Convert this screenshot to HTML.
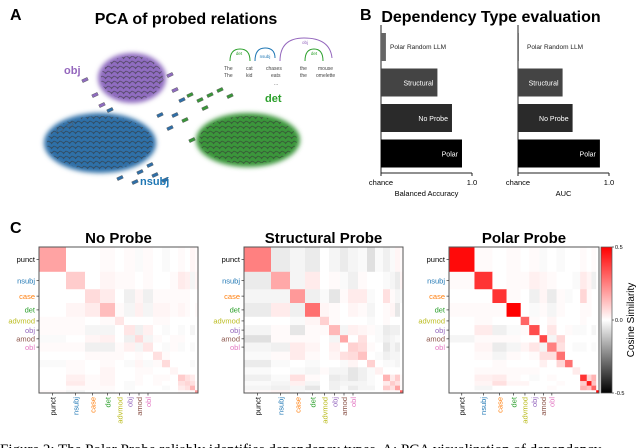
<!DOCTYPE html>
<html><head><meta charset="utf-8">
<style>
html,body{margin:0;padding:0;background:#fff;}
body{width:640px;height:448px;overflow:hidden;position:relative;font-family:"Liberation Sans",Arial,sans-serif;}
svg{position:absolute;left:0;top:0;}
</style></head>
<body>
<svg id="fig" width="640" height="448" viewBox="0 0 640 448" xmlns="http://www.w3.org/2000/svg">
<defs>
<pattern id="speck" width="6" height="5" patternUnits="userSpaceOnUse">
<path d="M0 1 L4 3 M3 4 L6 1" stroke="#333" stroke-width="0.9" opacity="0.6"/>
</pattern>
<filter id="soft" x="-20%" y="-20%" width="140%" height="140%"><feGaussianBlur stdDeviation="2.5"/></filter>
</defs>
<!-- Panel A -->
<text x="10" y="20" font-size="16" font-weight="bold">A</text>
<text x="186" y="24" font-size="16" font-weight="bold" text-anchor="middle">PCA of probed relations</text>
<g id="pca"></g>
<text x="64" y="74" font-size="11" font-weight="bold" fill="#9467bd">obj</text>
<text x="140" y="185" font-size="11" font-weight="bold" fill="#1f77b4">nsubj</text>
<text x="265" y="102" font-size="11" font-weight="bold" fill="#2ca02c">det</text>
<g font-size="5" fill="#444">
<path d="M250 61 Q250 49 240 49 Q230 49 230 61" fill="none" stroke="#2ca02c" stroke-width="1"/>
<text x="239" y="55" fill="#2ca02c" font-size="4.5" text-anchor="middle">det</text>
<path d="M255 61 Q255 48 265 48 Q275 48 275 58" fill="none" stroke="#1f77b4" stroke-width="1"/>
<text x="265" y="58" fill="#1f77b4" font-size="4.5" text-anchor="middle">nsubj</text>
<path d="M280 61 Q280 38 304 38 Q330 38 332 58" fill="none" stroke="#9467bd" stroke-width="1"/>
<text x="305" y="44" fill="#9467bd" font-size="4.5" text-anchor="middle">obj</text>
<path d="M323 61 Q323 49 314 49 Q305 49 305 61" fill="none" stroke="#2ca02c" stroke-width="1"/>
<text x="314" y="55" fill="#2ca02c" font-size="4.5" text-anchor="middle">det</text>
<text x="224" y="70">The</text><text x="246" y="70">cat</text><text x="266" y="70">chases</text><text x="300" y="70">the</text><text x="318" y="70">mouse</text>
<text x="224" y="77">The</text><text x="246" y="77">kid</text><text x="271" y="77">eats</text><text x="300" y="77">the</text><text x="316" y="77">omelette</text>
<text x="274" y="85">...</text>
</g>
<!-- Panel B -->
<text x="360" y="20" font-size="16" font-weight="bold">B</text>
<text x="491" y="22" font-size="16" font-weight="bold" text-anchor="middle">Dependency Type evaluation</text>
<g id="bars"></g>
<!-- Panel C -->
<text x="10" y="233" font-size="16" font-weight="bold">C</text>
<g id="heat"></g>
<g id="cbar"></g>
<text x="0" y="0" font-size="10" text-anchor="middle" transform="translate(634,320) rotate(-90)">Cosine Similarity</text>
<text x="0" y="454" font-size="15" font-family="Liberation Serif, serif">Figure 2: The Polar Probe reliably identifies dependency types. A: PCA visualization of dependency</text>
</svg>
<script>
const NS='http://www.w3.org/2000/svg';
function mk(tag,attrs,parent){const e=document.createElementNS(NS,tag);for(const k in attrs)e.setAttribute(k,attrs[k]);parent.appendChild(e);return e;}

// ---------- PCA data ----------
const clusterNames=['obj','nsubj','det'];
const clusterCX=[132,100,248];
const clusterCY=[78,143,140];
const clusterRX=[34,56,52];
const clusterRY=[25,30,27];
const clusterColors=['#8f6cc0','#2f6fa8','#3a963a'];
const strayX=[85,95,102,110,160,170,175,182,190,175,160,150,155,165,200,210,220,230,60,70,120,135,140,170,185,205,192];
const strayY=[80,95,105,110,80,75,90,100,95,115,115,165,175,180,100,95,90,96,130,125,178,182,172,128,120,108,140];
const strayCls=[0,0,0,1,0,0,0,1,2,1,1,1,1,1,2,2,2,2,1,1,1,1,1,1,2,2,2];
const pca=document.getElementById('pca');
for(let i=0;i<clusterNames.length;i++){
  const e=mk('ellipse',{cx:clusterCX[i],cy:clusterCY[i],rx:clusterRX[i],ry:clusterRY[i],fill:clusterColors[i],filter:'url(#soft)'},pca);
  
  
  const p=mk('ellipse',{cx:clusterCX[i],cy:clusterCY[i],rx:clusterRX[i]-3,ry:clusterRY[i]-3,fill:'url(#speck)'},pca);
  
  
}
for(let i=0;i<strayX.length;i++){
  const r=mk('rect',{x:strayX[i]-3,y:strayY[i]-1.5,width:6,height:3,fill:clusterColors[strayCls[i]],stroke:'#555','stroke-width':0.4,transform:`rotate(-25 ${strayX[i]} ${strayY[i]})`},pca);
  
  
}

// ---------- Bar chart data ----------
const barCategories=['Polar Random LLM','Structural','No Probe','Polar'];
const balancedAccuracy=[0.527,0.81,0.89,0.945];
const aucValues=[0.505,0.745,0.80,0.95];
const xTickLabels=['chance','1.0'];
const barColors=['#666','#444','#2a2a2a','#000'];
const bars=document.getElementById('bars');
function barChart(x0,x1,vals,label,key){
  const sx=v=>x0+(v-0.5)/0.5*(x1-x0);
  const top=33,band=35.5,bh=28;
  const ax=mk('line',{x1:x0,y1:25,x2:x0,y2:173,stroke:'#222','stroke-width':1},bars);
  
  const bx=mk('line',{x1:x0,y1:173,x2:x1,y2:173,stroke:'#222','stroke-width':1},bars);
  
  [0.5,1.0].forEach((v,i)=>{
    mk('line',{x1:sx(v),y1:173,x2:sx(v),y2:176,stroke:'#222'},bars);
    const t=mk('text',{x:sx(v),y:185,'font-size':7.5,'text-anchor':'middle'},bars);t.textContent=xTickLabels[i];
    
  });
  const l=mk('text',{x:(x0+x1)/2,y:196,'font-size':7.5,'text-anchor':'middle'},bars);l.textContent=label;
  
  vals.forEach((v,i)=>{
    const y=top+i*band;
    const r=mk('rect',{x:x0,y:y,width:Math.max(sx(v)-x0,0.6),height:bh,fill:barColors[i]},bars);
    
    
    let t;
    if(i===0){t=mk('text',{x:x0+9,y:y+16,'font-size':6.5,fill:'#222'},bars);}
    else{t=mk('text',{x:sx(v)-4,y:y+17,'font-size':7,fill:'#fff','text-anchor':'end'},bars);}
    t.textContent=barCategories[i];
    
  });
}
barChart(381,472,balancedAccuracy,'Balanced Accuracy','accuracy');
barChart(518,609,aucValues,'AUC','auc');

// ---------- Heatmap data ----------
const blockWeights=[27,19,15,15,9,11,8,10,9,8,8,7,5,5,3];
const tickLabels=['punct','nsubj','case','det','advmod','obj','amod','obl'];
const tickColors=['#000','#1f77b4','#ff7f0e','#2ca02c','#bcbd22','#9467bd','#8c564b','#e377c2'];
const panelTitles=['No Probe','Structural Probe','Polar Probe'];
const noProbe=[
[18,0,0,1,0,1,-1,1,0,-1,0,1,0,2,1],
[0,10,0,2,1,1,0,1,0,0,1,4,3,-2,2],
[0,0,7,4,0,-3,2,-3,1,1,1,1,1,0,0],
[0,2,4,13,1,-2,3,-2,2,2,1,2,1,0,1],
[1,1,0,1,5,0,0,0,1,1,0,0,0,0,0],
[1,1,-2,-2,0,5,-3,3,0,-1,0,-1,0,-2,0],
[-1,0,2,3,0,-3,7,-2,1,0,1,1,0,0,0],
[1,1,-3,-3,1,3,-2,5,0,-1,1,-1,0,-1,0],
[0,0,1,1,1,0,1,0,6,1,0,0,0,0,0],
[-1,1,0,1,0,-1,2,-1,1,7,0,0,0,-1,0],
[0,1,0,2,0,0,1,1,0,0,2,0,0,0,0],
[0,3,1,2,0,0,1,0,1,1,0,10,6,4,0],
[0,4,1,2,0,-1,1,0,1,0,0,6,8,6,1],
[0,1,1,1,0,-1,0,0,0,-1,0,4,6,14,1],
[1,-2,0,-1,0,0,0,0,0,0,0,1,1,1,20]];
const structural=[
[25,-4,-2,-4,0,-2,-4,-2,-1,-6,-1,-3,-1,2,1],
[-4,17,-2,4,0,1,-1,-3,1,0,0,-1,-2,-4,2],
[-2,-2,20,-3,-1,-5,1,4,4,-1,0,6,1,-2,-1],
[-4,4,-3,28,2,1,0,2,1,-2,0,1,2,-5,0],
[0,0,-1,2,9,1,0,0,0,-1,0,1,0,0,0],
[-2,1,-5,1,1,14,-2,3,2,1,-1,-4,-3,-3,0],
[-6,1,1,1,0,-2,17,0,6,0,-1,-3,-2,-1,0],
[-2,-3,4,2,0,3,0,9,7,1,0,-5,-2,-4,0],
[-1,1,4,1,0,2,6,7,12,0,-1,-3,-2,-2,0],
[-4,-1,0,-1,0,0,-1,2,0,9,0,-1,-1,-2,0],
[-1,0,-1,-2,1,-2,-2,-5,-3,-1,3,0,0,0,0],
[-3,-1,6,1,0,-4,-3,-5,-3,-1,0,15,4,10,1],
[-1,-2,3,-2,0,-3,-2,-2,-2,-1,0,4,10,6,1],
[-2,-3,-2,-5,0,-3,-1,-4,-2,-2,0,10,6,18,1],
[1,2,-1,0,0,0,0,0,0,0,0,1,1,1,30]];
const polar=[
[48,1,0,1,0,1,-1,0,-1,0,0,1,0,1,0],
[1,40,0,1,1,3,2,1,0,0,-1,4,2,-3,0],
[0,0,40,1,0,-3,2,-4,1,-1,0,8,1,0,0],
[1,1,1,50,0,-1,1,-2,1,0,0,1,1,0,0],
[0,1,0,0,30,1,0,2,0,0,0,1,0,0,0],
[0,4,-3,-1,1,35,0,5,0,1,-1,-1,0,-2,0],
[-2,1,1,1,0,0,36,-2,8,0,0,0,0,0,0],
[0,2,-4,-2,2,5,-2,25,6,0,-1,-1,0,-1,0],
[0,1,-2,1,0,1,6,6,28,0,0,0,0,0,0],
[0,0,1,0,0,0,3,0,8,28,0,0,0,0,0],
[0,1,1,1,1,1,0,0,0,0,4,0,0,0,0],
[0,3,4,1,0,-1,0,1,0,0,0,40,8,15,0],
[0,2,6,2,2,0,0,0,1,0,0,10,45,12,0],
[0,-2,0,0,0,0,0,1,0,0,0,15,12,30,0],
[0,0,0,0,0,0,0,0,0,0,0,0,0,0,50]];
const matrices=[noProbe,structural,polar];
function color(v){
  v=v/100;
  if(v>=0){const t=Math.min(v/0.5,1);const g=Math.round(255*(1-t));return `rgb(255,${g},${g})`;}
  const t=Math.min(-v/0.5,1);const g=Math.round(255*(1-t));return `rgb(${g},${g},${g})`;
}
const heat=document.getElementById('heat');
const panelX=[39,244,449],panelW=[159,159,150],panelY=247,panelH=146;
const totalW=blockWeights.reduce((a,b)=>a+b,0);
for(let p=0;p<3;p++){
  const x0=panelX[p],w=panelW[p];
  const edgesX=[x0],edgesY=[panelY];
  blockWeights.forEach(b=>{edgesX.push(edgesX[edgesX.length-1]+b/totalW*w);edgesY.push(edgesY[edgesY.length-1]+b/totalW*panelH);});
  const M=matrices[p];
  for(let i=0;i<15;i++)for(let j=0;j<15;j++){
    const r=mk('rect',{x:edgesX[j],y:edgesY[i],width:edgesX[j+1]-edgesX[j]+0.3,height:edgesY[i+1]-edgesY[i]+0.3,fill:color(M[i][j])},heat);
    
    
  }
  const f=mk('rect',{x:x0,y:panelY,width:w,height:panelH,fill:'none',stroke:'#555','stroke-width':1},heat);
  
  const t=mk('text',{x:x0+w/2,y:243,'font-size':15,'font-weight':'bold','text-anchor':'middle'},heat);
  t.textContent=panelTitles[p];
  
  tickLabels.forEach((lab,k)=>{
    const cy=(edgesY[k]+edgesY[k+1])/2, cx=(edgesX[k]+edgesX[k+1])/2;
    mk('line',{x1:x0-2.5,y1:cy,x2:x0,y2:cy,stroke:'#333','stroke-width':0.7},heat);
    const ty=mk('text',{x:x0-4,y:cy+2.8,'font-size':7.5,fill:tickColors[k],'text-anchor':'end'},heat);
    ty.textContent=lab;
    
    mk('line',{x1:cx,y1:panelY+panelH,x2:cx,y2:panelY+panelH+2.5,stroke:'#333','stroke-width':0.7},heat);
    const tx=mk('text',{x:0,y:0,'font-size':7.5,fill:tickColors[k],'text-anchor':'end',transform:`translate(${cx+2.8},${panelY+panelH+4}) rotate(-90)`},heat);
    tx.textContent=lab;
    
  });
}
// colorbar
const cbTicks=['0.5','0.0','-0.5'];
const cbar=document.getElementById('cbar');
const g=mk('linearGradient',{id:'cg',x1:0,y1:0,x2:0,y2:1},document.querySelector('defs'));
mk('stop',{offset:'0',  'stop-color':'#ff0000'},g);
mk('stop',{offset:'0.5','stop-color':'#ffffff'},g);
mk('stop',{offset:'1',  'stop-color':'#000000'},g);
const cr=mk('rect',{x:601,y:247,width:11,height:146,fill:'url(#cg)',stroke:'#555','stroke-width':0.7},cbar);

cbTicks.forEach((t,i)=>{
  const y=247+i*73;
  mk('line',{x1:612,y1:y,x2:614,y2:y,stroke:'#333','stroke-width':0.7},cbar);
  const tt=mk('text',{x:615,y:y+2,'font-size':5.5},cbar);tt.textContent=t;
  
});
</script>
</body></html>
